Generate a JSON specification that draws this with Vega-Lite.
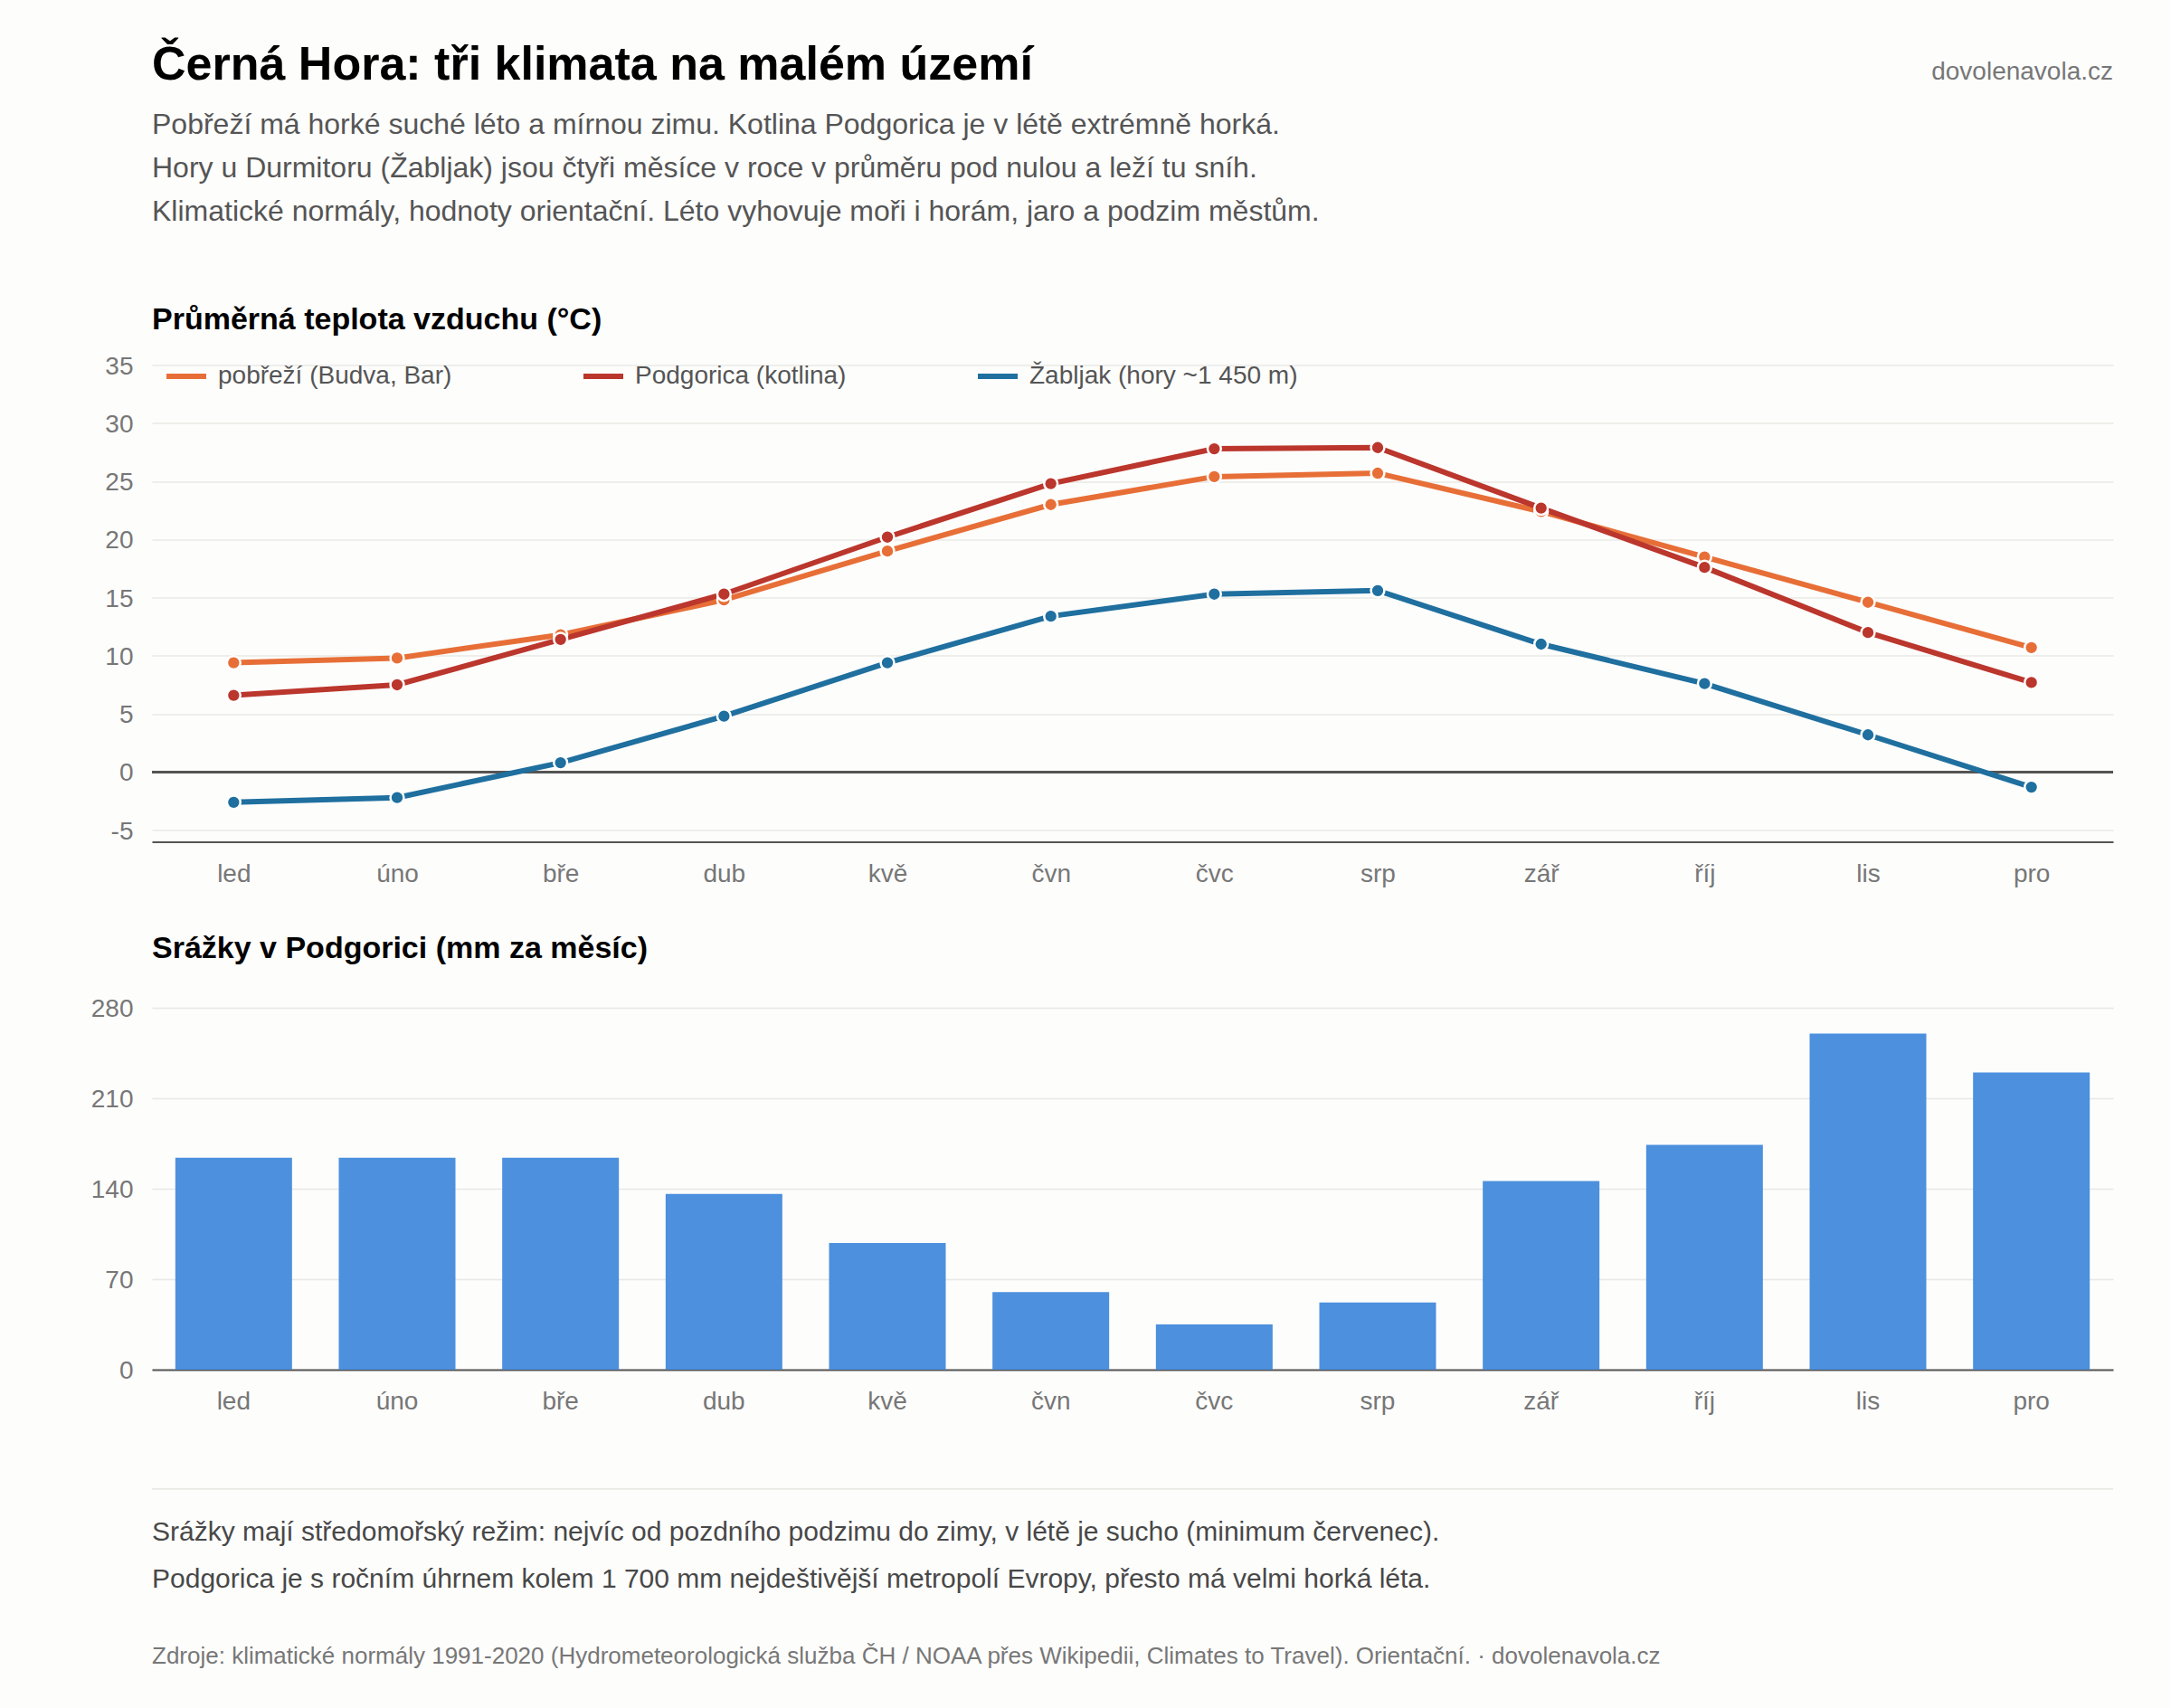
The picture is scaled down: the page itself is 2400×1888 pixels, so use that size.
{
  "$schema": "https://vega.github.io/schema/vega-lite/v6.json",
  "background": "#fdfdfc",
  "padding": {"left": 100, "top": 0, "right": 64, "bottom": 0},
  "spacing": 51.5,
  "datasets": {
    "temps": [
      {"mesic": "led", "misto": "pobřeží (Budva, Bar)", "teplota": 9.4},
      {"mesic": "úno", "misto": "pobřeží (Budva, Bar)", "teplota": 9.8},
      {"mesic": "bře", "misto": "pobřeží (Budva, Bar)", "teplota": 11.8},
      {"mesic": "dub", "misto": "pobřeží (Budva, Bar)", "teplota": 14.8},
      {"mesic": "kvě", "misto": "pobřeží (Budva, Bar)", "teplota": 19},
      {"mesic": "čvn", "misto": "pobřeží (Budva, Bar)", "teplota": 23},
      {"mesic": "čvc", "misto": "pobřeží (Budva, Bar)", "teplota": 25.4},
      {"mesic": "srp", "misto": "pobřeží (Budva, Bar)", "teplota": 25.7},
      {"mesic": "zář", "misto": "pobřeží (Budva, Bar)", "teplota": 22.4},
      {"mesic": "říj", "misto": "pobřeží (Budva, Bar)", "teplota": 18.5},
      {"mesic": "lis", "misto": "pobřeží (Budva, Bar)", "teplota": 14.6},
      {"mesic": "pro", "misto": "pobřeží (Budva, Bar)", "teplota": 10.7},
      {"mesic": "led", "misto": "Podgorica (kotlina)", "teplota": 6.6},
      {"mesic": "úno", "misto": "Podgorica (kotlina)", "teplota": 7.5},
      {"mesic": "bře", "misto": "Podgorica (kotlina)", "teplota": 11.4},
      {"mesic": "dub", "misto": "Podgorica (kotlina)", "teplota": 15.3},
      {"mesic": "kvě", "misto": "Podgorica (kotlina)", "teplota": 20.2},
      {"mesic": "čvn", "misto": "Podgorica (kotlina)", "teplota": 24.8},
      {"mesic": "čvc", "misto": "Podgorica (kotlina)", "teplota": 27.8},
      {"mesic": "srp", "misto": "Podgorica (kotlina)", "teplota": 27.9},
      {"mesic": "zář", "misto": "Podgorica (kotlina)", "teplota": 22.7},
      {"mesic": "říj", "misto": "Podgorica (kotlina)", "teplota": 17.6},
      {"mesic": "lis", "misto": "Podgorica (kotlina)", "teplota": 12},
      {"mesic": "pro", "misto": "Podgorica (kotlina)", "teplota": 7.7},
      {"mesic": "led", "misto": "Žabljak (hory ~1 450 m)", "teplota": -2.6},
      {"mesic": "úno", "misto": "Žabljak (hory ~1 450 m)", "teplota": -2.2},
      {"mesic": "bře", "misto": "Žabljak (hory ~1 450 m)", "teplota": 0.8},
      {"mesic": "dub", "misto": "Žabljak (hory ~1 450 m)", "teplota": 4.8},
      {"mesic": "kvě", "misto": "Žabljak (hory ~1 450 m)", "teplota": 9.4},
      {"mesic": "čvn", "misto": "Žabljak (hory ~1 450 m)", "teplota": 13.4},
      {"mesic": "čvc", "misto": "Žabljak (hory ~1 450 m)", "teplota": 15.3},
      {"mesic": "srp", "misto": "Žabljak (hory ~1 450 m)", "teplota": 15.6},
      {"mesic": "zář", "misto": "Žabljak (hory ~1 450 m)", "teplota": 11},
      {"mesic": "říj", "misto": "Žabljak (hory ~1 450 m)", "teplota": 7.6},
      {"mesic": "lis", "misto": "Žabljak (hory ~1 450 m)", "teplota": 3.2},
      {"mesic": "pro", "misto": "Žabljak (hory ~1 450 m)", "teplota": -1.3}
    ],
    "srazky": [
      {"mesic": "led", "mm": 164},
      {"mesic": "úno", "mm": 164},
      {"mesic": "bře", "mm": 164},
      {"mesic": "dub", "mm": 136},
      {"mesic": "kvě", "mm": 98},
      {"mesic": "čvn", "mm": 60},
      {"mesic": "čvc", "mm": 35},
      {"mesic": "srp", "mm": 52},
      {"mesic": "zář", "mm": 146},
      {"mesic": "říj", "mm": 174},
      {"mesic": "lis", "mm": 260},
      {"mesic": "pro", "mm": 230}
    ]
  },
  "config": {
    "font": "Liberation Sans",
    "view": {"stroke": null},
    "axis": {
      "title": null,
      "ticks": false,
      "labelFontSize": 28,
      "labelColor": "#777777",
      "gridColor": "#e8e8e5",
      "gridWidth": 1.7,
      "domainColor": "#555555",
      "domainWidth": 2
    },
    "title": {
      "anchor": "start",
      "fontSize": 34,
      "fontWeight": "bold",
      "color": "#000000",
      "frame": "group"
    }
  },
  "vconcat": [
    {
      "width": 2168,
      "height": 285,
      "layer": [
        {
          "data": {"values": [{"radek": 0, "text": "Černá Hora: tři klimata na malém území"}]},
          "mark": {"type": "text", "align": "left", "baseline": "middle", "fontSize": 52, "fontWeight": "bold", "color": "#000000", "dy": -16.5},
          "encoding": {
            "x": {"datum": 0, "type": "quantitative", "scale": {"domain": [0, 1]}, "axis": null},
            "y": {"field": "radek", "type": "quantitative", "scale": {"domain": [-1.83, 4.096], "reverse": true, "nice": false, "zero": false}, "axis": null},
            "text": {"field": "text"}
          }
        },
        {
          "data": {"values": [{"radek": 0, "text": "dovolenavola.cz"}]},
          "mark": {"type": "text", "align": "right", "baseline": "middle", "fontSize": 28, "color": "#777777", "dy": -8.5},
          "encoding": {
            "x": {"datum": 1, "type": "quantitative"},
            "y": {"field": "radek", "type": "quantitative"},
            "text": {"field": "text"}
          }
        },
        {
          "data": {"values": [
            {"radek": 1, "text": "Pobřeží má horké suché léto a mírnou zimu. Kotlina Podgorica je v létě extrémně horká."},
            {"radek": 2, "text": "Hory u Durmitoru (Žabljak) jsou čtyři měsíce v roce v průměru pod nulou a leží tu sníh."},
            {"radek": 3, "text": "Klimatické normály, hodnoty orientační. Léto vyhovuje moři i horám, jaro a podzim městům."}
          ]},
          "mark": {"type": "text", "align": "left", "baseline": "middle", "fontSize": 32, "color": "#555555", "dy": 1.5},
          "encoding": {
            "x": {"datum": 0, "type": "quantitative"},
            "y": {"field": "radek", "type": "quantitative"},
            "text": {"field": "text"}
          }
        }
      ]
    },
    {
      "width": 2168,
      "height": 527,
      "title": {"text": "Průměrná teplota vzduchu (°C)", "offset": 20.5},
      "data": {"name": "temps"},
      "encoding": {
        "x": {
          "field": "mesic",
          "type": "ordinal",
          "sort": ["led", "úno", "bře", "dub", "kvě", "čvn", "čvc", "srp", "zář", "říj", "lis", "pro"],
          "scale": {"type": "point", "padding": 0.5},
          "axis": {"labelAngle": 0, "labelPadding": 22, "grid": false}
        }
      },
      "layer": [
        {
          "mark": {"type": "rule", "color": "#555555", "strokeWidth": 2},
          "encoding": {
            "x": {"value": 0},
            "x2": {"value": 2168},
            "y": {
              "datum": 0,
              "type": "quantitative",
              "scale": {"domain": [-6, 35], "nice": false},
              "axis": {"values": [-5, 0, 5, 10, 15, 20, 25, 30, 35], "labelExpr": "replace(datum.label, '−', '-')", "domain": false, "grid": true, "labelPadding": 21, "labelOffset": 1.5}
            }
          }
        },
        {
          "mark": {"type": "line", "strokeWidth": 6},
          "encoding": {
            "y": {"field": "teplota", "type": "quantitative"},
            "color": {
              "field": "misto",
              "type": "nominal",
              "sort": ["pobřeží (Budva, Bar)", "Podgorica (kotlina)", "Žabljak (hory ~1 450 m)"],
              "scale": {
                "domain": ["pobřeží (Budva, Bar)", "Podgorica (kotlina)", "Žabljak (hory ~1 450 m)"],
                "range": ["#e76f37", "#bb362c", "#1f6f9f"]
              },
              "legend": {
                "title": null,
                "orient": "none",
                "legendX": 13,
                "legendY": 391,
                "direction": "horizontal",
                "columns": 3,
                "gridAlign": "each",
                "columnPadding": 133,
                "symbolType": "stroke",
                "symbolSize": 1936,
                "symbolStrokeWidth": 6,
                "labelFontSize": 28,
                "labelColor": "#555555",
                "labelOffset": 10,
                "labelLimit": 500,
                "padding": 0
              }
            }
          }
        },
        {
          "mark": {"type": "circle", "opacity": 1, "stroke": "#ffffff", "strokeWidth": 2.5, "size": 220},
          "encoding": {
            "y": {"field": "teplota", "type": "quantitative"},
            "color": {"field": "misto", "type": "nominal", "legend": null}
          }
        }
      ]
    },
    {
      "width": 2168,
      "height": 400,
      "title": {"text": "Srážky v Podgorici (mm za měsíc)", "offset": 35.5},
      "data": {"name": "srazky"},
      "mark": {"type": "bar", "color": "#4c90de"},
      "encoding": {
        "x": {
          "field": "mesic",
          "type": "ordinal",
          "sort": ["led", "úno", "bře", "dub", "kvě", "čvn", "čvc", "srp", "zář", "říj", "lis", "pro"],
          "scale": {"paddingInner": 0.286, "paddingOuter": 0.143},
          "axis": {"labelAngle": 0, "labelPadding": 21, "grid": false}
        },
        "y": {
          "field": "mm",
          "type": "quantitative",
          "scale": {"domain": [0, 280], "nice": false},
          "axis": {"values": [0, 70, 140, 210, 280], "domain": false, "grid": true, "labelPadding": 21, "labelOffset": 1.5}
        }
      }
    },
    {
      "width": 2168,
      "height": 273,
      "layer": [
        {
          "data": {"values": [{"radek": 0.077}]},
          "mark": {"type": "rule", "color": "#e8e8e5", "strokeWidth": 1.7},
          "encoding": {
            "y": {"field": "radek", "type": "quantitative", "scale": {"domain": [-0.526, 4.724], "reverse": true, "nice": false, "zero": false}, "axis": null}
          }
        },
        {
          "data": {"values": [
            {"radek": 1, "text": "Srážky mají středomořský režim: nejvíc od pozdního podzimu do zimy, v létě je sucho (minimum červenec)."},
            {"radek": 2, "text": "Podgorica je s ročním úhrnem kolem 1 700 mm nejdeštivější metropolí Evropy, přesto má velmi horká léta."}
          ]},
          "mark": {"type": "text", "align": "left", "baseline": "middle", "fontSize": 30, "color": "#484848"},
          "encoding": {
            "x": {"datum": 0, "type": "quantitative", "scale": {"domain": [0, 1]}, "axis": null},
            "y": {"field": "radek", "type": "quantitative"},
            "text": {"field": "text"}
          }
        },
        {
          "data": {"values": [
            {"radek": 3, "text": "Zdroje: klimatické normály 1991-2020 (Hydrometeorologická služba ČH / NOAA přes Wikipedii, Climates to Travel). Orientační. · dovolenavola.cz"}
          ]},
          "mark": {"type": "text", "align": "left", "baseline": "middle", "fontSize": 26, "color": "#777777", "dy": 33},
          "encoding": {
            "x": {"datum": 0, "type": "quantitative"},
            "y": {"field": "radek", "type": "quantitative"},
            "text": {"field": "text"}
          }
        }
      ]
    }
  ]
}
